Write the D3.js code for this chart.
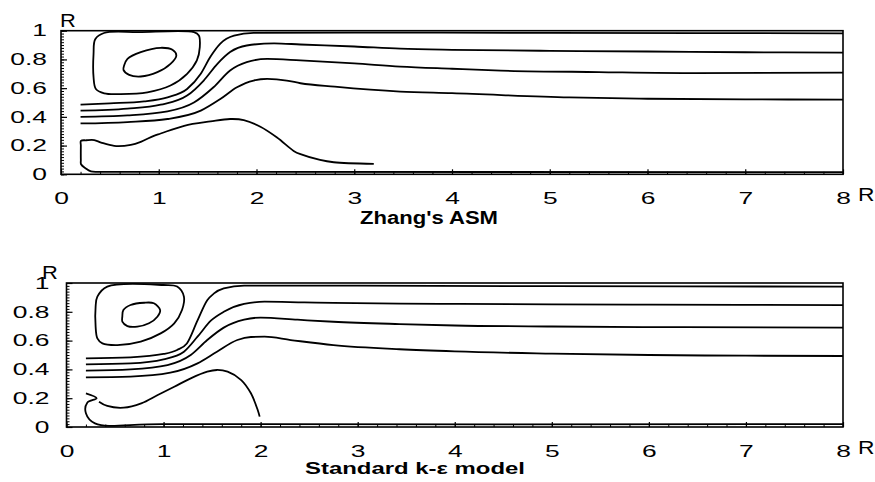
<!DOCTYPE html>
<html>
<head>
<meta charset="utf-8">
<script src="https://cdn.jsdelivr.net/npm/d3@7"></script>
<style>
  body { margin: 0; background: #fff; }
  text { font-family: "Liberation Sans", Arial, Helvetica, sans-serif; }
</style>
</head>
<body>
<div id="chart"></div>
<script>
// axis ticks
var xTicks = [0, 1, 2, 3, 4, 5, 6, 7, 8];
var yTicks = [0, 0.2, 0.4, 0.6, 0.8, 1];

// Zhang's ASM streamlines, [x, R]
var asmA = [[0.2,0.485],[0.5,0.494],[0.85,0.508],[1.09,0.536],[1.29,0.594],[1.43,0.70],[1.53,0.82],[1.63,0.91],[1.77,0.965],[1.97,0.985],[3,0.987],[5,0.985],[8,0.982]];
var asmB = [[0.2,0.443],[0.68,0.457],[1.02,0.485],[1.29,0.548],[1.46,0.653],[1.6,0.769],[1.73,0.851],[1.9,0.897],[2.18,0.912],[2.45,0.904],[3,0.89],[3.47,0.875],[4,0.867],[5,0.86],[6,0.855],[7,0.85],[8,0.847]];
var asmC = [[0.2,0.40],[0.68,0.41],[1.09,0.438],[1.36,0.50],[1.56,0.606],[1.73,0.723],[1.9,0.781],[2.11,0.804],[2.45,0.793],[3,0.772],[3.47,0.75],[4,0.735],[4.5,0.722],[5.5,0.712],[6.5,0.705],[8,0.708]];
var asmD = [[0.2,0.354],[0.68,0.364],[1.09,0.385],[1.43,0.443],[1.63,0.524],[1.8,0.606],[1.97,0.653],[2.11,0.664],[2.31,0.653],[2.45,0.634],[2.8,0.61],[3.47,0.576],[4,0.565],[5.2,0.535],[6,0.526],[7,0.522],[8,0.52]];
var asmLow = [[3.2,0.073],[2.79,0.084],[2.65,0.10],[2.45,0.14],[2.38,0.163],[2.21,0.256],[2.04,0.331],[1.87,0.378],[1.73,0.385],[1.53,0.368],[1.26,0.338],[1.02,0.284],[0.95,0.268],[0.816,0.226],[0.714,0.205],[0.544,0.198],[0.41,0.221],[0.34,0.238],[0.26,0.237],[0.204,0.233],[0.203,0.2],[0.203,0.1],[0.205,0.07],[0.25,0.042],[0.306,0.02],[0.4,0.017],[1,0.017],[8,0.015]];
var asmOuter = [[0.44,0.984],[0.8,0.99],[1.36,0.99],[1.41,0.967],[1.42,0.886],[1.39,0.793],[1.29,0.70],[1.12,0.618],[0.884,0.571],[0.612,0.559],[0.442,0.564],[0.357,0.594],[0.333,0.676],[0.333,0.839],[0.35,0.94]];
var asmInner = [[0.646,0.758],[0.68,0.804],[0.816,0.851],[1.02,0.881],[1.14,0.867],[1.18,0.828],[1.12,0.769],[0.986,0.711],[0.816,0.681],[0.697,0.692],[0.639,0.727]];

// standard k-epsilon streamlines
var keA = [[0.2,0.477],[0.66,0.484],[1.0,0.507],[1.14,0.535],[1.24,0.58],[1.35,0.74],[1.45,0.88],[1.52,0.928],[1.62,0.963],[1.83,0.982],[3,0.982],[5,0.978],[8,0.975]];
var keB = [[0.2,0.435],[0.66,0.442],[1.0,0.47],[1.21,0.523],[1.35,0.627],[1.49,0.74],[1.62,0.80],[1.83,0.855],[2.04,0.87],[2.45,0.865],[2.75,0.862],[3.43,0.857],[4,0.855],[5,0.852],[6,0.85],[8,0.847]];
var keC = [[0.2,0.391],[0.66,0.40],[1.04,0.43],[1.28,0.50],[1.45,0.604],[1.62,0.69],[1.83,0.745],[2.0,0.76],[2.38,0.745],[2.75,0.731],[3.43,0.715],[4,0.705],[5,0.698],[6,0.694],[8,0.69]];
var keD = [[0.2,0.345],[0.66,0.35],[1.07,0.377],[1.35,0.442],[1.55,0.523],[1.76,0.604],[1.9,0.625],[2.04,0.627],[2.31,0.604],[2.75,0.569],[3.43,0.54],[4,0.525],[5,0.51],[6,0.5],[7,0.495],[8,0.493]];
var keWall = [[0.2,0.234],[0.31,0.2],[0.214,0.169],[0.2,0.095],[0.293,0.025],[1,0.02],[8,0.02]];
var keLow = [[0.335,0.176],[0.42,0.146],[0.59,0.134],[0.77,0.164],[0.94,0.222],[1.11,0.28],[1.28,0.338],[1.45,0.384],[1.55,0.396],[1.66,0.384],[1.8,0.326],[1.9,0.234],[1.97,0.118],[1.99,0.072]];
var keOuter = [[0.42,0.975],[1.0,0.986],[1.14,0.975],[1.21,0.905],[1.19,0.813],[1.11,0.72],[0.97,0.65],[0.765,0.593],[0.524,0.569],[0.37,0.581],[0.318,0.616],[0.30,0.697],[0.30,0.836],[0.318,0.905]];
var keInner = [[0.575,0.766],[0.586,0.812],[0.66,0.847],[0.80,0.863],[0.90,0.859],[0.965,0.812],[0.936,0.766],[0.85,0.72],[0.73,0.697],[0.627,0.701],[0.575,0.731]];

var svg = d3.select("#chart").append("svg")
    .attr("width", 875)
    .attr("height", 482);

svg.append("rect").attr("width", 875).attr("height", 482).attr("fill", "#fff");

// the scanned lettering is wide, so stretch text sideways
function stretch(sel, k) {
    sel.each(function() {
        var w = this.getComputedTextLength();
        d3.select(this).attr("textLength", w * k).attr("lengthAdjust", "spacingAndGlyphs");
    });
}

function drawPanel(p) {
    var x = d3.scaleLinear().domain([0, 8]).range([p.left, p.right]);
    var y = d3.scaleLinear().domain([0, 1]).range([p.bottom, p.top]);
    var g = svg.append("g");

    // minor ticks first
    g.append("g")
        .attr("transform", "translate(0," + p.bottom + ")")
        .call(d3.axisBottom(x).tickValues(d3.range(0, 8.01, 0.2)).tickSize(-2.5).tickFormat(""))
        .call(function(a) { a.select(".domain").remove(); });
    g.append("g")
        .attr("transform", "translate(" + p.left + ",0)")
        .call(d3.axisLeft(y).tickValues(d3.range(0, 1.001, 0.02)).tickSize(-3).tickFormat(""))
        .call(function(a) { a.select(".domain").remove(); });

    var xAxis = g.append("g")
        .attr("transform", "translate(0," + p.bottom + ")")
        .call(d3.axisBottom(x).tickValues(xTicks).tickSize(-5).tickPadding(18).tickFormat(d3.format("d")));
    var yAxis = g.append("g")
        .attr("transform", "translate(" + p.left + ",0)")
        .call(d3.axisLeft(y).tickValues(yTicks).tickSize(-6).tickPadding(p.pad).tickFormat(d3.format("")));
    [xAxis, yAxis].forEach(function(a) {
        a.select(".domain").remove();
        a.selectAll("text").attr("font-size", 16.5).attr("font-family", null).attr("fill", "#000")
            .call(stretch, 1.6);
        a.selectAll("line").attr("stroke", "#000").attr("stroke-width", 1.2);
    });
    g.selectAll(".tick line").attr("stroke", "#000");

    g.append("rect")
        .attr("x", p.left).attr("y", p.top)
        .attr("width", p.right - p.left).attr("height", p.bottom - p.top)
        .attr("fill", "none").attr("stroke", "#000").attr("stroke-width", 1.6);

    var open = d3.line().x(function(d) { return x(d[0]); }).y(function(d) { return y(d[1]); })
        .curve(d3.curveMonotoneX);
    var free = d3.line().x(function(d) { return x(d[0]); }).y(function(d) { return y(d[1]); })
        .curve(d3.curveCatmullRom.alpha(0.5));
    var loop = d3.line().x(function(d) { return x(d[0]); }).y(function(d) { return y(d[1]); })
        .curve(d3.curveCatmullRomClosed.alpha(0.5));

    var lines = g.append("g").attr("fill", "none").attr("stroke", "#000").attr("stroke-width", 1.8);
    p.open.forEach(function(s) { lines.append("path").attr("d", open(s)); });
    p.free.forEach(function(s) { lines.append("path").attr("d", free(s)); });
    p.loops.forEach(function(s) { lines.append("path").attr("d", loop(s)); });

    svg.append("text").attr("x", p.rLeft[0]).attr("y", p.rLeft[1]).attr("font-size", 19).text("R")
        .call(stretch, 1.15);
    svg.append("text").attr("x", p.right + 15).attr("y", p.bottom + 27).attr("font-size", 19).text("R")
        .call(stretch, 1.2);
    svg.append("text")
        .attr("x", p.title[0]).attr("y", p.title[1])
        .attr("font-size", p.title[3]).attr("font-weight", "bold")
        .attr("textLength", p.title[2]).attr("lengthAdjust", "spacingAndGlyphs")
        .text(p.name);
}

drawPanel({
    left: 61, right: 843, top: 30.7, bottom: 174.3, pad: 14,
    open: [asmA, asmB, asmC, asmD],
    free: [asmLow],
    loops: [asmOuter, asmInner],
    rLeft: [60, 27],
    title: [360, 224, 138, 18],
    name: "Zhang's ASM"
});

drawPanel({
    left: 66.5, right: 843, top: 283, bottom: 427, pad: 17,
    open: [keA, keB, keC, keD],
    free: [keWall, keLow],
    loops: [keOuter, keInner],
    rLeft: [42, 279],
    title: [305, 474, 220, 16.5],
    name: "Standard k-\u03b5 model"
});
</script>
</body>
</html>
